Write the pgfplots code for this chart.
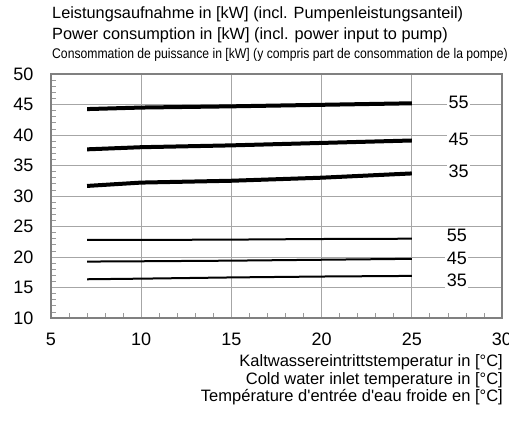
\documentclass[border=0pt]{standalone}
\usepackage{pgfplots}
\pgfplotsset{compat=1.18}
\usepackage{fontspec}
\setmainfont{Liberation Sans}
\newfontfamily\af{Liberation Sans}
\usepackage{graphicx}
\begin{document}
\begin{tikzpicture}[x=1pt,y=1pt]
\useasboundingbox (-51,-108) rectangle (458,318);
\begin{axis}[at={(0,0)},anchor=south west, scale only axis,
  width=451pt, height=244pt,
  xmin=5,xmax=30,ymin=10,ymax=50,
  xtick={5,10,...,30}, ytick={10,15,...,50},
  minor x tick num=4, minor y tick num=4,
  grid=major, major grid style={black!35, line width=0.9pt},
  axis line style={black!50, line width=1.1pt},
  tick pos=left, major tick length=0pt, minor tick length=5pt,
  minor tick style={black!40, line width=0.7pt},
  tick label style={font=\fontsize{18}{18}\selectfont},
  /pgf/number format/assume math mode=true,
  xticklabel style={anchor=north, text height=13pt, text depth=0pt, yshift=-11pt},
  yticklabel style={xshift=-14pt},
  clip=false]
\addplot[black, line width=4pt] coordinates {(7,44.25) (10,44.5) (15,44.7) (20,44.95) (25,45.2)};
\addplot[black, line width=4pt] coordinates {(7,37.65) (10,38.0) (15,38.3) (20,38.7) (25,39.1)};
\addplot[black, line width=4pt] coordinates {(7,31.65) (10,32.2) (15,32.5) (20,33.0) (25,33.7)};
\addplot[black, line width=2pt] coordinates {(7,22.8) (10,22.8) (15,22.85) (20,22.95) (25,23.0)};
\addplot[black, line width=2pt] coordinates {(7,19.25) (10,19.3) (15,19.4) (20,19.55) (25,19.7)};
\addplot[black, line width=2pt] coordinates {(7,16.35) (10,16.45) (15,16.65) (20,16.8) (25,16.9)};
\node[fill=white,inner sep=1.5pt,font=\fontsize{18}{18}\selectfont] at (axis cs:27.6,45.3) {55};
\node[fill=white,inner sep=1.5pt,font=\fontsize{18}{18}\selectfont] at (axis cs:27.6,39.3) {45};
\node[fill=white,inner sep=1.5pt,font=\fontsize{18}{18}\selectfont] at (axis cs:27.6,34.0) {35};
\node[fill=white,inner sep=1.5pt,font=\fontsize{18}{18}\selectfont] at (axis cs:27.5,23.6) {55};
\node[fill=white,inner sep=1.5pt,font=\fontsize{18}{18}\selectfont] at (axis cs:27.5,19.8) {45};
\node[fill=white,inner sep=1.5pt,font=\fontsize{18}{18}\selectfont] at (axis cs:27.5,16.1) {35};
\end{axis}
\node[anchor=west,inner sep=0pt,font=\fontsize{16.3}{16.3}\selectfont] at (1,304) {Leistungsaufnahme in [kW] (incl. Pumpenleistungsanteil)};
\node[anchor=west,inner sep=0pt,font=\fontsize{16.3}{16.3}\selectfont] at (1,283) {Power consumption in [kW] (incl. power input to pump)};
\node[anchor=west,inner sep=0pt] at (1,263) {\scalebox{0.87}[1]{\fontsize{14}{14}\selectfont Consommation de puissance in [kW] (y compris part de consommation de la pompe)}};
\node[anchor=east,inner sep=0pt,font=\fontsize{16.5}{16.5}\selectfont] at (452,-44) {Kaltwassereintrittstemperatur in [°C]};
\node[anchor=east,inner sep=0pt,font=\fontsize{16.5}{16.5}\selectfont] at (452,-62) {Cold water inlet temperature in [°C]};
\node[anchor=east,inner sep=0pt,font=\fontsize{16.5}{16.5}\af] at (452,-79) {Température d'entrée d'eau froide en [°C]};
\end{tikzpicture}
\end{document}
